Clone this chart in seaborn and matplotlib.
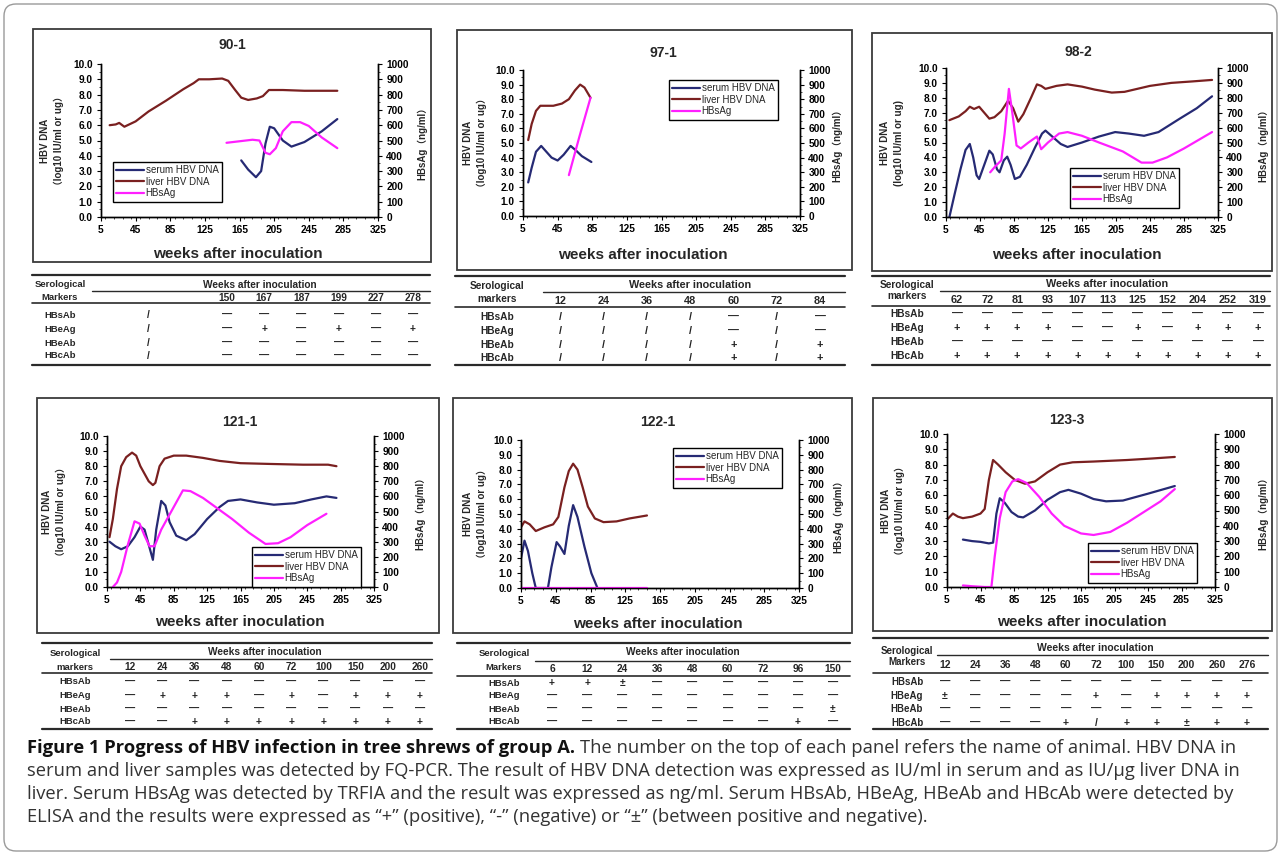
import numpy as np
import matplotlib
matplotlib.use('Agg')
import matplotlib.pyplot as plt
from matplotlib.patches import Rectangle, FancyBboxPatch
from matplotlib.lines import Line2D
from matplotlib.ticker import MultipleLocator, FormatStrFormatter
from matplotlib.transforms import IdentityTransform
import seaborn as sns

# --- axis ticks shared by all panels ---
week_ticks = [5, 45, 85, 125, 165, 205, 245, 285, 325]
dna_ticks = [0, 1, 2, 3, 4, 5, 6, 7, 8, 9, 10]
hbsag_ticks = [0, 100, 200, 300, 400, 500, 600, 700, 800, 900, 1000]
series_names = ['serum HBV DNA', 'liver HBV DNA', 'HBsAg']

# --- 90-1 ---
a901_serum_wk = [167, 175, 184, 190, 195, 200, 205, 215, 225, 240, 260, 278]
a901_serum = [3.7, 3.1, 2.6, 3.0, 4.8, 5.9, 5.8, 5.0, 4.6, 4.9, 5.6, 6.4]
a901_liver_wk = [15, 22, 26, 32, 45, 60, 80, 100, 112, 118, 130, 145, 152, 160, 167, 175, 185, 192, 199, 215, 240, 278]
a901_liver = [6.0, 6.05, 6.15, 5.9, 6.25, 6.9, 7.6, 8.35, 8.75, 9.0, 9.0, 9.05, 8.9, 8.3, 7.8, 7.65, 7.75, 7.9, 8.3, 8.3, 8.25, 8.25]
a901_hbsag_wk = [150, 165, 180, 188, 195, 200, 207, 215, 225, 235, 245, 260, 278]
a901_hbsag = [485, 495, 505, 500, 420, 410, 450, 560, 620, 620, 595, 520, 450]

# --- 97-1 ---
a971_serum_wk = [11, 15, 20, 26, 32, 38, 45, 52, 60, 66, 73, 84]
a971_serum = [2.3, 3.3, 4.4, 4.8, 4.4, 4.0, 3.8, 4.2, 4.8, 4.5, 4.1, 3.7]
a971_liver_wk = [11, 15, 20, 25, 30, 40, 50, 58, 65, 71, 76, 83]
a971_liver = [5.2, 6.3, 7.2, 7.55, 7.55, 7.55, 7.7, 8.0, 8.6, 9.0, 8.8, 8.1]
a971_hbsag_wk = [58, 70, 83]
a971_hbsag = [280, 540, 810]

# --- 98-2 ---
a982_serum_wk = [9, 15, 22, 28, 33, 37, 41, 44, 50, 56, 60, 65, 68, 73, 77, 81, 86, 92, 100, 110, 118, 122,
                 130, 140, 148, 165, 185, 204, 220, 238, 255, 280, 300, 318]
a982_serum = [0.0, 1.5, 3.2, 4.5, 4.9, 4.0, 2.8, 2.55, 3.5, 4.45, 4.2, 3.2, 3.0, 3.8, 4.05, 3.5, 2.55, 2.7, 3.5, 4.7, 5.6, 5.8,
              5.4, 4.9, 4.7, 5.0, 5.4, 5.7, 5.6, 5.45, 5.7, 6.6, 7.3, 8.1]
a982_liver_wk = [9, 20, 28, 33, 38, 44, 50, 56, 62, 70, 78, 84, 90, 96, 105, 112, 117, 122, 135, 148, 165, 180, 200,
                 215, 230, 245, 270, 295, 318]
a982_liver = [6.5, 6.75, 7.1, 7.4, 7.25, 7.4, 7.0, 6.6, 6.7, 7.1, 7.8, 7.3, 6.4, 6.9, 8.0, 8.9, 8.8, 8.6, 8.8, 8.9, 8.75,
              8.55, 8.35, 8.4, 8.6, 8.8, 9.0, 9.1, 9.2]
a982_hbsag_wk = [57, 63, 70, 74, 79, 83, 88, 93, 102, 112, 117, 125, 138, 148, 165, 185, 213, 235, 248, 265, 285, 318]
a982_hbsag = [300, 340, 380, 560, 860, 700, 480, 460, 500, 540, 455, 500, 560, 570, 545, 500, 440, 365, 365, 400, 460, 570]

# --- 121-1 ---
a1211_serum_wk = [8, 15, 22, 30, 38, 45, 50, 55, 60, 64, 70, 75, 80, 88, 100, 110, 125, 140, 150, 165, 185, 205,
                  230, 250, 268, 280]
a1211_serum = [3.0, 2.7, 2.5, 2.7, 3.3, 4.0, 3.8, 2.8, 1.8, 3.8, 5.7, 5.4, 4.3, 3.4, 3.1, 3.5, 4.5, 5.3, 5.7, 5.8,
               5.6, 5.45, 5.55, 5.8, 6.0, 5.9]
a1211_liver_wk = [8, 12, 17, 22, 28, 35, 40, 45, 50, 55, 60, 63, 68, 74, 85, 100, 120, 140, 165, 200, 240, 270, 280]
a1211_liver = [3.3, 4.5, 6.5, 8.0, 8.6, 8.9, 8.7, 8.0, 7.5, 7.0, 6.75, 6.9, 8.0, 8.5, 8.7, 8.7, 8.55, 8.35, 8.2,
               8.15, 8.1, 8.1, 8.0]
a1211_hbsag_wk = [12, 17, 22, 30, 38, 44, 50, 56, 62, 70, 80, 88, 96, 105, 120, 135, 155, 175, 195, 210, 225, 245, 268]
a1211_hbsag = [0, 30, 100, 280, 435, 420, 340, 270, 270, 380, 480, 560, 640, 635, 590, 530, 450, 360, 285, 290,
               330, 410, 485]

# --- 122-1 ---
a1221_serum_wk = [5, 9, 13, 18, 22, 36, 40, 46, 50, 55, 60, 65, 70, 78, 86, 93]
a1221_serum = [2.0, 3.2, 2.5, 1.0, 0.0, 0.0, 1.4, 3.1, 2.8, 2.3, 4.2, 5.6, 4.8, 2.8, 1.0, 0.0]
a1221_liver_wk = [5, 9, 15, 22, 32, 42, 48, 55, 60, 65, 70, 76, 82, 90, 100, 115, 130, 150]
a1221_liver = [4.1, 4.5, 4.3, 3.85, 4.1, 4.3, 4.8, 6.8, 7.9, 8.4, 8.0, 6.8, 5.5, 4.7, 4.45, 4.5, 4.7, 4.9]
a1221_hbsag_wk = [5, 150]
a1221_hbsag = [0, 0]

# --- 123-3 ---
a1233_serum_wk = [24, 35, 45, 55, 60, 64, 68, 74, 82, 90, 96, 110, 125, 140, 150, 165, 180, 195, 215, 245, 277]
a1233_serum = [3.1, 3.0, 2.95, 2.85, 2.9, 4.8, 5.8, 5.5, 4.9, 4.6, 4.55, 5.0, 5.7, 6.2, 6.35, 6.1, 5.75, 5.6,
               5.65, 6.1, 6.6]
a1233_liver_wk = [5, 12, 18, 24, 35, 45, 50, 55, 60, 66, 75, 86, 98, 110, 125, 140, 155, 180, 220, 250, 277]
a1233_liver = [4.4, 4.8, 4.6, 4.5, 4.6, 4.8, 5.1, 7.0, 8.3, 8.0, 7.5, 7.0, 6.75, 6.9, 7.5, 8.0, 8.15, 8.2, 8.3,
               8.4, 8.5]
a1233_hbsag_wk = [24, 35, 50, 58, 62, 68, 75, 83, 90, 100, 115, 130, 145, 165, 180, 200, 220, 240, 260, 277]
a1233_hbsag = [10, 5, 0, 0, 200, 450, 620, 690, 705, 680, 590, 480, 400, 350, 340, 360, 420, 490, 560, 640]

# --- serology tables ---
marker_rows = ['HBsAb', 'HBeAg', 'HBeAb', 'HBcAb']
t901_weeks = ['', '150', '167', '187', '199', '227', '278']
t901_marks = [['/', '—', '—', '—', '—', '—', '—'],
              ['/', '—', '+', '—', '+', '—', '+'],
              ['/', '—', '—', '—', '—', '—', '—'],
              ['/', '—', '—', '—', '—', '—', '—']]
t971_weeks = ['12', '24', '36', '48', '60', '72', '84']
t971_marks = [['/', '/', '/', '/', '—', '/', '—'],
              ['/', '/', '/', '/', '—', '/', '—'],
              ['/', '/', '/', '/', '+', '/', '+'],
              ['/', '/', '/', '/', '+', '/', '+']]
t982_weeks = ['62', '72', '81', '93', '107', '113', '125', '152', '204', '252', '319']
t982_marks = [['—'] * 11,
              ['+', '+', '+', '+', '—', '—', '+', '—', '+', '+', '+'],
              ['—'] * 11,
              ['+'] * 11]
t1211_weeks = ['12', '24', '36', '48', '60', '72', '100', '150', '200', '260']
t1211_marks = [['—'] * 10,
               ['—', '+', '+', '+', '—', '+', '—', '+', '+', '+'],
               ['—'] * 10,
               ['—', '—', '+', '+', '+', '+', '+', '+', '+', '+']]
t1221_weeks = ['6', '12', '24', '36', '48', '60', '72', '96', '150']
t1221_marks = [['+', '+', '±', '—', '—', '—', '—', '—', '—'],
               ['—'] * 9,
               ['—', '—', '—', '—', '—', '—', '—', '—', '±'],
               ['—', '—', '—', '—', '—', '—', '—', '+', '—']]
t1233_weeks = ['12', '24', '36', '48', '60', '72', '100', '150', '200', '260', '276']
t1233_marks = [['—'] * 11,
               ['±', '—', '—', '—', '—', '+', '—', '+', '+', '+', '+'],
               ['—'] * 11,
               ['—', '—', '—', '—', '+', '/', '+', '+', '±', '+', '+']]

sns.set_theme(style='ticks')
plt.rcParams['font.family'] = ['Liberation Sans', 'Noto Sans CJK SC', 'DejaVu Sans']
plt.rcParams['font.weight'] = 'bold'

W, H = 1281, 857
fig = plt.figure(figsize=(W / 100, H / 100), dpi=100)
fig.patch.set_facecolor('white')


def fx(x):
    return x / W


def fy(y):
    return 1 - y / H


COLORS = ['#262a74', '#7a2020', '#ff1fff']


def draw_panel(lay, title, serum, liver, hbsag, ylab):
    bx0, by0, bx1, by1 = lay['box']
    fig.add_artist(Rectangle((fx(bx0), fy(by1)), (bx1 - bx0) / W, (by1 - by0) / H,
                             transform=fig.transFigure, fill=False, ec='#3a3a3a', lw=1.3))
    x0, y0, x1, y1 = lay['axes']
    ax = fig.add_axes([fx(x0), fy(y1), (x1 - x0) / W, (y1 - y0) / H])
    ax2 = ax.twinx()
    handles = []
    for (wk, vals), col, a in zip([serum, liver, hbsag], COLORS, [ax, ax, ax2]):
        sns.lineplot(x=wk, y=vals, ax=a, color=col, lw=1.6, sort=False, estimator=None)
        handles.append(a.lines[-1])
    ax.set_xlim(week_ticks[0], week_ticks[-1])
    ax.set_xticks(week_ticks)
    ax.set_ylim(dna_ticks[0], dna_ticks[-1])
    ax.set_yticks(dna_ticks)
    ax.yaxis.set_major_formatter(FormatStrFormatter('%.1f'))
    ax2.set_ylim(hbsag_ticks[0], hbsag_ticks[-1])
    ax2.set_yticks(hbsag_ticks)
    ax.xaxis.set_minor_locator(MultipleLocator(10))
    ax.yaxis.set_minor_locator(MultipleLocator(0.5))
    ax2.yaxis.set_minor_locator(MultipleLocator(50))
    for a in (ax, ax2):
        a.spines['top'].set_visible(False)
        for s in a.spines.values():
            s.set_color('black')
            s.set_linewidth(1.0)
        a.tick_params(which='major', length=3, width=0.8, labelsize=7.3, pad=3, colors='black')
        a.tick_params(which='minor', length=1.5, width=0.6)
    ax.set_xlabel('')
    ax.set_ylabel(ylab, fontsize=7, fontweight='bold', linespacing=1.45)
    ax.yaxis.label.set_va('center')
    ax.yaxis.set_label_coords((lay['ylab'] - x0) / (x1 - x0), 0.5)
    ax2.set_ylabel('HBsAg（ng/ml）', fontsize=7, fontweight='bold')
    ax2.yaxis.label.set_va('center')
    ax2.yaxis.set_label_coords((lay['ylab2'] - x0) / (x1 - x0), 0.5)
    ax2.legend(handles, series_names, loc='upper left',
               bbox_to_anchor=(fx(lay['leg'][0]), fy(lay['leg'][1])), bbox_transform=fig.transFigure,
               frameon=True, fancybox=False, edgecolor='black', framealpha=1,
               prop={'size': 7, 'weight': 'normal'}, handlelength=2.8, handletextpad=0.2,
               labelspacing=0.15, borderpad=0.35, borderaxespad=0)
    ax2.get_legend().get_frame().set_linewidth(1.0)
    fig.text(fx(lay['title'][0]), fy(lay['title'][1]), title, ha='center', va='center',
             fontsize=10, fontweight='bold')
    fig.text(fx(lay['xlab'][0]), fy(lay['xlab'][1]), 'weeks after inoculation', ha='center',
             va='center', fontsize=11, fontweight='bold')


def draw_table(lay, weeks, marks, fs):
    def hline(y, xa, xb, lw):
        fig.add_artist(Line2D([fx(xa), fx(xb)], [fy(y), fy(y)], transform=fig.transFigure,
                              color='#2a2a2a', lw=lw))
    xa, xb = lay['span']
    hline(lay['top'], xa, xb, 1.6)
    hline(lay['under_head'], lay['head_x0'], xb, 1.0)
    hline(lay['under_cols'], xa, xb, 1.2)
    hline(lay['bottom'], xa, xb, 1.6)
    fig.text(fx(lay['head'][0]), fy(lay['head'][1]), 'Weeks after inoculation', ha='center',
             va='center', fontsize=fs, fontweight='bold')
    fig.text(fx(lay['label_x']), fy(lay['sero'][0]), 'Serological', ha='center', va='center',
             fontsize=fs - 0.5, fontweight='bold')
    fig.text(fx(lay['label_x']), fy(lay['sero'][1]), lay['markers_word'], ha='center', va='center',
             fontsize=fs - 0.5, fontweight='bold')
    cols = lay['cols']
    for cx, wk in zip(cols, weeks):
        fig.text(fx(cx), fy(lay['col_y']), wk, ha='center', va='center', fontsize=fs, fontweight='bold')
    for ry, name, row in zip(lay['rows'], marker_rows, marks):
        fig.text(fx(lay['label_x']), fy(ry), name, ha='center', va='center', fontsize=fs - 0.5,
                 fontweight='bold')
        for cx, m in zip(cols, row):
            fig.text(fx(cx), fy(ry), m, ha='center', va='center', fontsize=fs, fontweight='bold',
                     color='#222222')


ylab_a = 'HBV DNA\n（log10 IU/ml or ug）'
ylab_b = 'HBV DNA\n(log10 IU/ml or ug)'

panels = [
    (dict(box=(33, 29, 431, 262), axes=(101, 64, 378, 217), ylab=52, ylab2=422, leg=(113, 162),
          title=(232, 45), xlab=(238, 254)),
     '90-1', (a901_serum_wk, a901_serum), (a901_liver_wk, a901_liver), (a901_hbsag_wk, a901_hbsag), ylab_a),
    (dict(box=(457, 30, 852, 270), axes=(523, 70, 800, 216), ylab=475, ylab2=837, leg=(669, 80),
          title=(663, 53), xlab=(643, 255)),
     '97-1', (a971_serum_wk, a971_serum), (a971_liver_wk, a971_liver), (a971_hbsag_wk, a971_hbsag), ylab_a),
    (dict(box=(872, 33, 1272, 271), axes=(946, 68, 1218, 217), ylab=892, ylab2=1263, leg=(1070, 168),
          title=(1078, 52), xlab=(1077, 255)),
     '98-2', (a982_serum_wk, a982_serum), (a982_liver_wk, a982_liver), (a982_hbsag_wk, a982_hbsag), ylab_b),
    (dict(box=(37, 398, 439, 633), axes=(107, 436, 374, 587), ylab=54, ylab2=420, leg=(252, 547),
          title=(240, 422), xlab=(240, 622)),
     '121-1', (a1211_serum_wk, a1211_serum), (a1211_liver_wk, a1211_liver), (a1211_hbsag_wk, a1211_hbsag), ylab_a),
    (dict(box=(453, 398, 852, 633), axes=(521, 440, 799, 588), ylab=475, ylab2=838, leg=(673, 448),
          title=(658, 422), xlab=(658, 624)),
     '122-1', (a1221_serum_wk, a1221_serum), (a1221_liver_wk, a1221_liver), (a1221_hbsag_wk, a1221_hbsag), ylab_a),
    (dict(box=(873, 398, 1272, 631), axes=(947, 434, 1215, 587), ylab=893, ylab2=1263, leg=(1088, 543),
          title=(1067, 420), xlab=(1082, 622)),
     '123-3', (a1233_serum_wk, a1233_serum), (a1233_liver_wk, a1233_liver), (a1233_hbsag_wk, a1233_hbsag), ylab_a),
]
for lay, name, s, l, g, yl in panels:
    draw_panel(lay, name, s, l, g, yl)

tables = [
    (dict(span=(32, 430), top=275, head=(260, 285), head_x0=92, under_head=291, col_y=298, under_cols=303,
          rows=[315, 329, 343, 356], bottom=365, label_x=60, sero=(285, 297), markers_word='Markers',
          cols=[148] + list(np.linspace(227, 413, 6))), t901_weeks, t901_marks, 7.3),
    (dict(span=(455, 845), top=276, head=(690, 285), head_x0=543, under_head=292, col_y=301, under_cols=307,
          rows=[317, 331, 345, 358], bottom=365, label_x=497, sero=(286, 299), markers_word='markers',
          cols=list(np.linspace(560, 820, 7))), t971_weeks, t971_marks, 7.8),
    (dict(span=(872, 1270), top=276, head=(1107, 284), head_x0=940, under_head=291, col_y=300, under_cols=306,
          rows=[314, 328, 342, 356], bottom=365, label_x=907, sero=(285, 296), markers_word='markers',
          cols=list(np.linspace(957, 1258, 11))), t982_weeks, t982_marks, 7.8),
    (dict(span=(42, 432), top=643, head=(265, 652), head_x0=110, under_head=659, col_y=667, under_cols=673,
          rows=[682, 696, 709, 722], bottom=729, label_x=75, sero=(653, 667), markers_word='markers',
          cols=list(np.linspace(130, 420, 10))), t1211_weeks, t1211_marks, 7.3),
    (dict(span=(457, 850), top=643, head=(683, 652), head_x0=535, under_head=661, col_y=669, under_cols=676,
          rows=[683, 696, 709, 722], bottom=729, label_x=504, sero=(654, 667), markers_word='Markers',
          cols=list(np.linspace(552, 833, 9))), t1221_weeks, t1221_marks, 7.3),
    (dict(span=(873, 1268), top=638, head=(1095, 648), head_x0=937, under_head=655, col_y=665, under_cols=673,
          rows=[682, 696, 709, 723], bottom=729, label_x=907, sero=(651, 662), markers_word='Markers',
          cols=list(np.linspace(945, 1247, 11))), t1233_weeks, t1233_marks, 7.5),
]
for lay, wk, mk, fs in tables:
    draw_table(lay, wk, mk, fs)

# outer rounded frame
fig.add_artist(FancyBboxPatch((4, H - 851), 1273, 847, boxstyle='round,pad=0,rounding_size=12',
                              transform=IdentityTransform(), fill=False, ec='#9a9a9a', lw=1.0))

# caption
cap_font = 'Open Sans'
cap_fs = 13.2
renderer = fig.canvas.get_renderer()
t = fig.text(fx(27), fy(748), 'Figure 1 Progress of HBV infection in tree shrews of group A.', ha='left',
             va='center', fontsize=cap_fs, fontweight='bold', family=cap_font, color='#111111')
bb = t.get_window_extent(renderer)
fig.text(fx(bb.x1 + 5), fy(748), 'The number on the top of each panel refers the name of animal. HBV DNA in',
         ha='left', va='center', fontsize=cap_fs, fontweight='normal', family=cap_font, color='#333333')
cap_lines = ['serum and liver samples was detected by FQ-PCR. The result of HBV DNA detection was expressed as IU/ml in serum and as IU/μg liver DNA in',
             'liver. Serum HBsAg was detected by TRFIA and the result was expressed as ng/ml. Serum HBsAb, HBeAg, HBeAb and HBcAb were detected by',
             'ELISA and the results were expressed as “+” (positive), “-” (negative) or “±” (between positive and negative).']
for i, line in enumerate(cap_lines):
    fig.text(fx(27), fy(771 + 23 * i), line, ha='left', va='center', fontsize=cap_fs, fontweight='normal',
             family=cap_font, color='#333333')

fig.savefig('out.png', dpi=100, facecolor='white')
